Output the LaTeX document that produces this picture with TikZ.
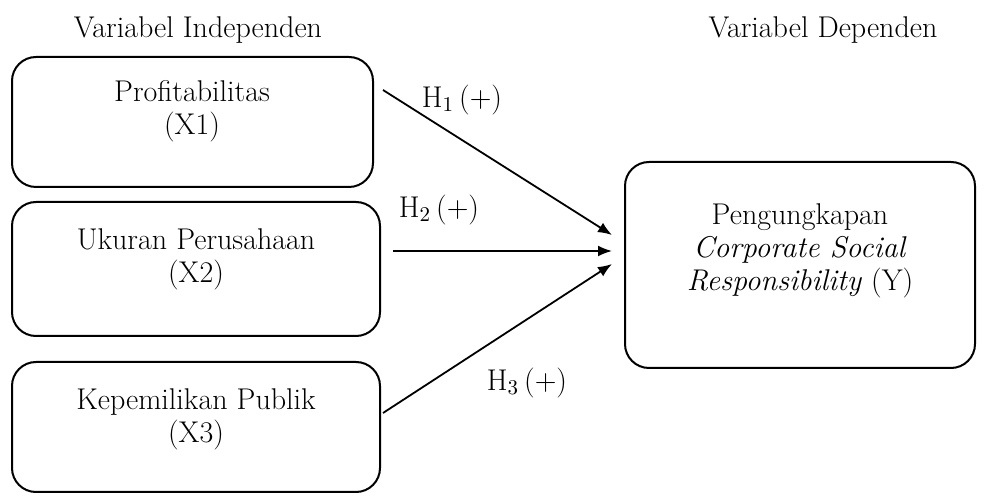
\documentclass[tikz,border=0pt]{standalone}
\usepackage{tikz}
\usetikzlibrary{arrows.meta, positioning}
\tikzset{%
    varbox/.style={
		draw,
		line width=1pt,
		rounded corners=12pt
	}
}
\tikzset{path/.style={line width=0.9pt, -{Latex[length=7pt, width=5.5pt]}}}

\begin{document}
\begin{tikzpicture}[x=0.5pt, y=-0.5pt]
		% Default action for each node
		\tikzstyle{every node}=[font=\fontsize{15}{16.5}\selectfont, align=center];

		\useasboundingbox (0,0) rectangle (986,496);

		\node (indep) at (198,30) {Variabel Independen};				\node (dep) at (823,30) {Variabel Dependen};

		\node[varbox, minimum width=180.5pt, minimum height=65pt] (x1) at (192.5,122) {};
		\node[varbox, minimum width=184pt, minimum height=67pt] (x2) at (196,269) {};
		\node[varbox, minimum width=184pt, minimum height=65pt] (x3) at (196,427) {};
		\node[varbox, minimum width=175pt, minimum height=103pt] (y) at (800,265) {};

		\node (x1text) at (192,111) {Profitabilitas\\(X1)};
		\node (x2text) at (196,259) {Ukuran Perusahaan\\(X2)};
		\node (x3text) at (196,419) {Kepemilikan Publik\\(X3)};
		\node (ytext) at (800,251) {Pengungkapan\\\textit{Corporate Social}\\\textit{Responsibility} (Y)};

		\coordinate (from1) at (383,90);	\coordinate (to1) at (612,235);
		\coordinate (from2) at (393,251);	\coordinate (to2) at (612,251);
		\coordinate (from3) at (383,413);	\coordinate (to3) at (612,264);

		\draw[path] (from1) -- (to1);
		\draw[path] (from2) -- (to2);
		\draw[path] (from3) -- (to3);

		\node (h1) at (462,100) {H\textsubscript{1}\,(+)};
		\node (h2) at (439,210) {H\textsubscript{2}\,(+)};
		\node (h3) at (527,383) {H\textsubscript{3}\,(+)};

	\end{tikzpicture}
\end{document}
